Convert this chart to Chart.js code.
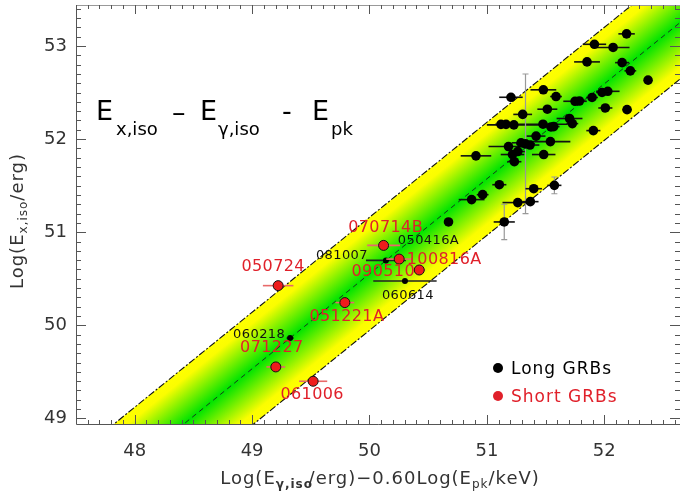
<!DOCTYPE html>
<html><head><meta charset="utf-8">
<script src="https://cdn.jsdelivr.net/npm/chart.js@4/dist/chart.umd.min.js"></script>
<style>html,body{margin:0;padding:0;background:#fff;overflow:hidden}#wrap{width:681px;height:497px}</style>
</head><body><div id="wrap"><canvas id="c" width="681" height="497"></canvas></div>
<script>
// ---------------- data ----------------
const xTickValues = [48, 49, 50, 51, 52];
const yTickValues = [49, 50, 51, 52, 53];

// Long GRBs (unlabelled)
const longX = [52.19, 51.916, 52.075, 51.853, 52.152, 52.222, 52.373, 51.481, 51.205, 51.589,
  51.751, 51.788, 51.896, 51.981, 52.03, 51.515, 52.009, 52.194, 51.305, 51.12,
  51.163, 51.23, 51.478, 51.546, 51.569, 51.704, 51.728, 51.907, 51.419, 51.541,
  51.184, 51.291, 51.329, 51.367, 51.263, 51.218, 50.907, 51.484, 51.234, 51.106,
  51.399, 51.575, 50.964, 50.87, 51.263, 51.37, 51.148];
const longY = [53.13, 53.018, 52.984, 52.829, 52.821, 52.733, 52.633, 52.529, 52.449, 52.457,
  52.406, 52.409, 52.447, 52.501, 52.513, 52.321, 52.334, 52.316, 52.265, 52.158,
  52.158, 52.153, 52.16, 52.13, 52.134, 52.221, 52.166, 52.091, 52.032, 51.973,
  51.92, 51.96, 51.949, 51.936, 51.866, 51.834, 51.82, 51.834, 51.757, 51.51,
  51.467, 51.503, 51.403, 51.35, 51.318, 51.328, 51.11];
const longXErr = [0.07, 0.10, 0.14, 0.11, 0.06, 0.05, 0, 0.11, 0.10, 0.05,
  0.10, 0.05, 0.05, 0.05, 0.10, 0.085, 0.06, 0.04, 0.08, 0.05,
  0.05, 0.23, 0.21, 0.05, 0.05, 0.11, 0.05, 0.06, 0.08, 0.17,
  0.17, 0.08, 0.08, 0.08, 0.06, 0.10, 0.13, 0.10, 0.06, 0.06,
  0.07, 0.06, 0.05, 0.11, 0.13, 0.07, 0.09];
const longYErr = [0, 0, 0, 0, 0, 0, 0, 0, 0, 0,
  0, 0, 0, 0, 0, 0, 0, 0, 0, 0,
  0, 0, 0, 0, 0, 0, 0, 0, 0, 0,
  0, 0, 0.75, 0, 0, 0, 0, 0, 0, 0,
  0, 0.09, 0, 0, 0, 0, 0.19];

// Long GRBs with names
const namedLongNames = ['050416A', '081007', '060614', '060218'];
const namedLongX = [50.673, 50.14, 50.302, 49.324];
const namedLongY = [51.11, 50.697, 50.476, 49.863];
const namedLongXErr = [0.03, 0.17, 0.27, 0.03];

// Short GRBs
const shortNames = ['050724', '070714B', '100816A', '090510', '051221A', '071227', '061006'];
const shortX = [49.222, 50.12, 50.253, 50.424, 49.79, 49.202, 49.52];
const shortY = [50.426, 50.858, 50.711, 50.594, 50.244, 49.553, 49.399];
const shortXErr = [0.13, 0.14, 0.11, 0.05, 0.08, 0.08, 0.12];

// correlation line and its band
const fitSlope = 1.02;
const fitIntercept = -0.447;
const bandHalfWidth = 0.607;
const bandXEnds = [47.0, 53.2];

// ---------------- styling / layout ----------------
const FONT = '"DejaVu Sans", "Liberation Sans", sans-serif';
const RED = '#e0202a';
const labelOffsets = {
  '050416A': [-20, 19], '081007': [-44, -5], '060614': [3, 15], '060218': [-31, -3],
  '050724': [-5, -19], '070714B': [2, -18], '100816A': [45, 1], '090510': [-36, 2],
  '051221A': [2, 14], '071227': [-4, -19], '061006': [-1, 14]
};

const pts = (xs, ys) => xs.map((x, i) => ({x: x, y: ys[i]}));
const lineAt = (off) => bandXEnds.map(x => ({x: x, y: fitSlope * x + fitIntercept + off}));

function bandGradient(context) {
  const chart = context.chart;
  const xs = chart.scales.x, ys = chart.scales.y;
  if (!chart.chartArea || !xs || !ys) return '#a0f000';
  const xm = 50, yc = fitSlope * xm + fitIntercept;
  const px = xs.getPixelForValue(xm), pyC = ys.getPixelForValue(yc);
  const pyU = ys.getPixelForValue(yc + bandHalfWidth);
  if (!isFinite(px) || !isFinite(pyC)) return '#a0f000';
  const dx = xs.getPixelForValue(xm + 1) - px;
  const dy = ys.getPixelForValue(yc + fitSlope) - pyC;
  const len = Math.hypot(dx, dy);
  const nx = -dy / len, ny = dx / len;
  const d = (pyU - pyC) * ny;
  const g = chart.ctx.createLinearGradient(px + nx * d, pyC + ny * d, px - nx * d, pyC - ny * d);
  g.addColorStop(0, '#ffff00');
  g.addColorStop(0.1, '#fbfd00');
  g.addColorStop(0.5, '#00e400');
  g.addColorStop(0.9, '#fbfd00');
  g.addColorStop(1, '#ffff00');
  return g;
}

function drawRich(ctx, segs, x, y, align) {
  let w = 0;
  segs.forEach(s => { ctx.font = s.size + 'px ' + FONT; s.w = ctx.measureText(s.t).width; w += s.w; });
  let cx = align === 'center' ? x - w / 2 : x;
  segs.forEach(s => {
    ctx.font = (s.bold ? 'bold ' : '') + s.size + 'px ' + FONT;
    ctx.fillText(s.t, cx, y + (s.dy || 0));
    cx += s.w;
  });
}

const errorBars = {
  id: 'errorBars',
  beforeDatasetDraw(chart, args) {
    const ds = chart.data.datasets[args.index];
    if (!ds.xErr) return;
    const ctx = chart.ctx, xs = chart.scales.x, ys = chart.scales.y, a = chart.chartArea;
    ctx.save();
    ctx.beginPath(); ctx.rect(a.left, a.top, a.right - a.left, a.bottom - a.top); ctx.clip();
    ds.data.forEach((p, i) => {
      const px = xs.getPixelForValue(p.x), py = ys.getPixelForValue(p.y);
      const ex = ds.xErr[i] || 0;
      if (ex > 0) {
        ctx.strokeStyle = ds.errColor; ctx.lineWidth = 1.6;
        ctx.beginPath();
        ctx.moveTo(xs.getPixelForValue(p.x - ex), py);
        ctx.lineTo(xs.getPixelForValue(p.x + ex), py);
        ctx.stroke();
      }
      const ey = ds.yErr ? (ds.yErr[i] || 0) : 0;
      if (ey > 0) {
        const y1 = ys.getPixelForValue(p.y - ey), y2 = ys.getPixelForValue(p.y + ey);
        ctx.strokeStyle = '#999'; ctx.lineWidth = 1.2;
        ctx.beginPath();
        ctx.moveTo(px, y1); ctx.lineTo(px, y2);
        ctx.moveTo(px - 3, y1); ctx.lineTo(px + 3, y1);
        ctx.moveTo(px - 3, y2); ctx.lineTo(px + 3, y2);
        ctx.stroke();
      }
    });
    ctx.restore();
  }
};

const decorations = {
  id: 'decorations',
  afterDatasetsDraw(chart) {
    const ctx = chart.ctx, xs = chart.scales.x, ys = chart.scales.y, a = chart.chartArea;
    ctx.save();
    // point labels
    ctx.textAlign = 'center'; ctx.textBaseline = 'middle';
    chart.data.datasets.forEach(ds => {
      if (!ds.names) return;
      ds.data.forEach((p, i) => {
        const nm = ds.names[i], off = labelOffsets[nm] || [0, 0];
        ctx.font = ds.labelSize + 'px ' + FONT;
        ctx.fillStyle = ds.labelColor;
        ctx.letterSpacing = '0.4px';
        ctx.fillText(nm, xs.getPixelForValue(p.x) + off[0], ys.getPixelForValue(p.y) + off[1]);
      });
    });
    ctx.letterSpacing = '0px';
    // frame
    ctx.strokeStyle = '#555'; ctx.lineWidth = 1;
    ctx.beginPath();
    ctx.moveTo(a.left + 0.5, a.top); ctx.lineTo(a.left + 0.5, a.bottom + 0.5); ctx.lineTo(a.right, a.bottom + 0.5);
    ctx.stroke();
    ctx.strokeStyle = '#999';
    ctx.beginPath(); ctx.moveTo(a.left, a.top + 0.5); ctx.lineTo(a.right, a.top + 0.5); ctx.stroke();
    // inward ticks
    ctx.strokeStyle = '#555'; ctx.lineWidth = 1;
    ctx.beginPath();
    for (let k = Math.ceil(xs.min * 10); k <= Math.floor(xs.max * 10); k++) {
      const px = Math.round(xs.getPixelForValue(k / 10)) + 0.5;
      const L = (k % 10 === 0) ? 9 : 4;
      ctx.moveTo(px, a.bottom); ctx.lineTo(px, a.bottom - L);
      ctx.moveTo(px, a.top); ctx.lineTo(px, a.top + L);
    }
    for (let k = Math.ceil(ys.min * 10); k <= Math.floor(ys.max * 10); k++) {
      const py = Math.round(ys.getPixelForValue(k / 10)) + 0.5;
      const L = (k % 10 === 0) ? 10 : 5;
      ctx.moveTo(a.left, py); ctx.lineTo(a.left + L, py);
      ctx.moveTo(a.right, py); ctx.lineTo(a.right - L, py);
    }
    ctx.stroke();
    ctx.restore();
  },
  afterDraw(chart) {
    const ctx = chart.ctx;
    ctx.save();
    ctx.textBaseline = 'alphabetic'; ctx.textAlign = 'left';
    // title
    ctx.fillStyle = '#000';
    ctx.letterSpacing = '0px';
    drawRich(ctx, [{t: 'E', size: 27}], 96, 120, 'left');
    drawRich(ctx, [{t: 'x,iso', size: 18}], 116, 135, 'left');
    drawRich(ctx, [{t: '\u2013', size: 27}], 172, 121, 'left');
    drawRich(ctx, [{t: 'E', size: 27}], 200, 120, 'left');
    drawRich(ctx, [{t: '\u03b3,iso', size: 18}], 218, 135, 'left');
    drawRich(ctx, [{t: '-', size: 27}], 282, 120, 'left');
    drawRich(ctx, [{t: 'E', size: 27}], 312, 120, 'left');
    drawRich(ctx, [{t: 'pk', size: 18}], 331, 135, 'left');
    // axis titles
    ctx.fillStyle = '#333';
    ctx.letterSpacing = '1px';
    drawRich(ctx, [
      {t: 'Log(E', size: 18}, {t: '\u03b3,iso', size: 12, dy: 4, bold: true}, {t: '/erg)\u22120.60Log(E', size: 18},
      {t: 'pk', size: 12, dy: 4}, {t: '/keV)', size: 18}], 380, 484, 'center');
    ctx.save();
    ctx.translate(23, 221); ctx.rotate(-Math.PI / 2);
    drawRich(ctx, [{t: 'Log(E', size: 18}, {t: 'x,iso', size: 12, dy: 4}, {t: '/erg)', size: 18}], 0, 0, 'center');
    ctx.restore();
    // legend
    ctx.letterSpacing = '1px';
    ctx.fillStyle = '#000';
    ctx.beginPath(); ctx.arc(498, 368, 5, 0, Math.PI * 2); ctx.fill();
    ctx.font = '17px ' + FONT;
    ctx.fillText('Long GRBs', 511, 374);
    ctx.fillStyle = RED;
    ctx.beginPath(); ctx.arc(498, 396, 5, 0, Math.PI * 2); ctx.fill();
    ctx.fillText('Short GRBs', 511, 402);
    ctx.restore();
  }
};

new Chart(document.getElementById('c'), {
  type: 'scatter',
  data: {
    datasets: [
      {label: 'Short GRBs', data: pts(shortX, shortY), names: shortNames, xErr: shortXErr, errColor: '#e86a6a',
        labelColor: RED, labelSize: 16,
        backgroundColor: '#ee1c1c', borderColor: '#111', borderWidth: 1, pointRadius: 5, order: 1},
      {label: 'Long GRBs (named)', data: pts(namedLongX, namedLongY), names: namedLongNames, xErr: namedLongXErr,
        errColor: '#222', labelColor: '#111', labelSize: 13,
        backgroundColor: '#000', borderColor: '#000', borderWidth: 0,
        pointRadius: (c) => c.dataIndex === 0 ? 4.8 : 3, order: 2},
      {label: 'Long GRBs', data: pts(longX, longY), xErr: longXErr, yErr: longYErr, errColor: '#111',
        backgroundColor: '#000', borderColor: '#000', borderWidth: 0, pointRadius: 4.8, order: 3},
      {type: 'line', label: 'fit', data: lineAt(0), borderColor: '#1a3a1a', borderWidth: 1,
        borderDash: [5, 4], pointRadius: 0, fill: false, order: 8},
      {type: 'line', label: 'lower', data: lineAt(-bandHalfWidth), borderColor: '#111', borderWidth: 1.1,
        borderDash: [7, 2, 2, 2], pointRadius: 0, fill: false, order: 9},
      {type: 'line', label: 'upper', data: lineAt(bandHalfWidth), borderColor: '#111', borderWidth: 1.1,
        borderDash: [7, 2, 2, 2], pointRadius: 0, fill: 4, backgroundColor: bandGradient, order: 10}
    ]
  },
  options: {
    responsive: false, animation: false, events: [],
    layout: {autoPadding: false, padding: {top: 5, right: 1, left: 0, bottom: 0}},
    plugins: {legend: {display: false}, tooltip: {enabled: false}, filler: {propagate: false}},
    scales: {
      x: {type: 'linear', min: 47.5, max: 52.645,
        grid: {display: false, drawTicks: false}, border: {display: false},
        afterBuildTicks: (s) => { s.ticks = xTickValues.map(v => ({value: v})); },
        afterFit: (s) => { s.height = 73; s.paddingLeft = 0; s.paddingRight = 0; },
        ticks: {font: {family: FONT, size: 18}, color: '#333', padding: 17, maxRotation: 0, autoSkip: false,
          callback: (v) => String(v)}},
      y: {type: 'linear', min: 48.94, max: 53.44,
        grid: {display: false, drawTicks: false}, border: {display: false},
        afterBuildTicks: (s) => { s.ticks = yTickValues.map(v => ({value: v})); },
        afterFit: (s) => { s.width = 76; s.paddingTop = 0; s.paddingBottom = 0; },
        ticks: {font: {family: FONT, size: 18}, color: '#333', padding: 9, autoSkip: false,
          callback: (v) => String(v)}}
    }
  },
  plugins: [errorBars, decorations]
});
</script>
</body></html>
